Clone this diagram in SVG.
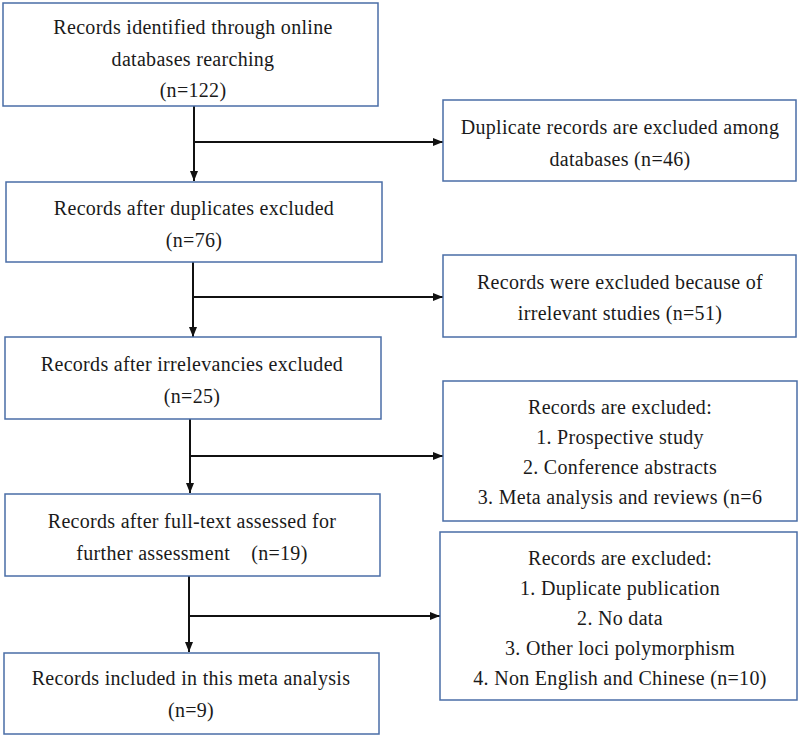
<svg xmlns="http://www.w3.org/2000/svg" width="800" height="737" viewBox="0 0 800 737">
<defs>
<style>
.box{fill:#fff;stroke:#4a6da7;stroke-width:1.5}
.t{font-family:"Liberation Serif","Times New Roman",serif;font-size:20px;letter-spacing:0.3px;fill:#1a1a1a;text-anchor:middle}
.c{stroke:#111;stroke-width:2;fill:none}
</style>
<marker id="ah" viewBox="0 0 10 10" refX="10" refY="5" markerWidth="10" markerHeight="10" markerUnits="userSpaceOnUse" orient="auto">
<path d="M0,1 L10,5 L0,9 Z" fill="#111"/>
</marker>
</defs>
<rect width="800" height="737" fill="#fff"/>
<g id="connectors">
<path class="c" d="M194,106 V181" marker-end="url(#ah)"/>
<path class="c" d="M194,142 H443" marker-end="url(#ah)"/>
<path class="c" d="M193,262 V337" marker-end="url(#ah)"/>
<path class="c" d="M193,297 H443" marker-end="url(#ah)"/>
<path class="c" d="M190,419 V493" marker-end="url(#ah)"/>
<path class="c" d="M190,456 H443" marker-end="url(#ah)"/>
<path class="c" d="M189,576 V652" marker-end="url(#ah)"/>
<path class="c" d="M189,616 H440" marker-end="url(#ah)"/>
</g>
<g id="n1">
<rect class="box" x="3" y="3" width="375" height="103"/>
<text class="t" x="193" y="34">Records identified through online</text>
<text class="t" x="193" y="66">databases rearching</text>
<text class="t" x="193" y="97">(n=122)</text>
</g>
<g id="n2">
<rect class="box" x="6" y="182" width="376" height="80"/>
<text class="t" x="194" y="215">Records after duplicates excluded</text>
<text class="t" x="194" y="247">(n=76)</text>
</g>
<g id="n3">
<rect class="box" x="5" y="337" width="376" height="82"/>
<text class="t" x="192" y="371">Records after irrelevancies excluded</text>
<text class="t" x="192" y="403">(n=25)</text>
</g>
<g id="n4">
<rect class="box" x="5" y="494" width="375" height="82"/>
<text class="t" x="192" y="528">Records after full-text assessed for</text>
<text class="t" x="192" y="560" xml:space="preserve">further assessment    (n=19)</text>
</g>
<g id="n5">
<rect class="box" x="4" y="653" width="375" height="81"/>
<text class="t" x="191" y="685">Records included in this meta analysis</text>
<text class="t" x="191" y="717">(n=9)</text>
</g>
<g id="r1">
<rect class="box" x="443" y="100" width="353" height="81"/>
<text class="t" x="620" y="134">Duplicate records are excluded among</text>
<text class="t" x="620" y="166">databases (n=46)</text>
</g>
<g id="r2">
<rect class="box" x="443" y="255" width="353" height="82"/>
<text class="t" x="620" y="289">Records were excluded because of</text>
<text class="t" x="620" y="320">irrelevant studies (n=51)</text>
</g>
<g id="r3">
<rect class="box" x="443" y="381" width="354" height="140"/>
<text class="t" x="620" y="414">Records are excluded:</text>
<text class="t" x="620" y="444">1. Prospective study</text>
<text class="t" x="620" y="474">2. Conference abstracts</text>
<text class="t" x="620" y="504">3. Meta analysis and reviews (n=6</text>
</g>
<g id="r4">
<rect class="box" x="440" y="532" width="357" height="168"/>
<text class="t" x="620" y="565">Records are excluded:</text>
<text class="t" x="620" y="595">1. Duplicate publication</text>
<text class="t" x="620" y="625">2. No data</text>
<text class="t" x="620" y="655">3. Other loci polymorphism</text>
<text class="t" x="620" y="685">4. Non English and Chinese (n=10)</text>
</g>
</svg>
